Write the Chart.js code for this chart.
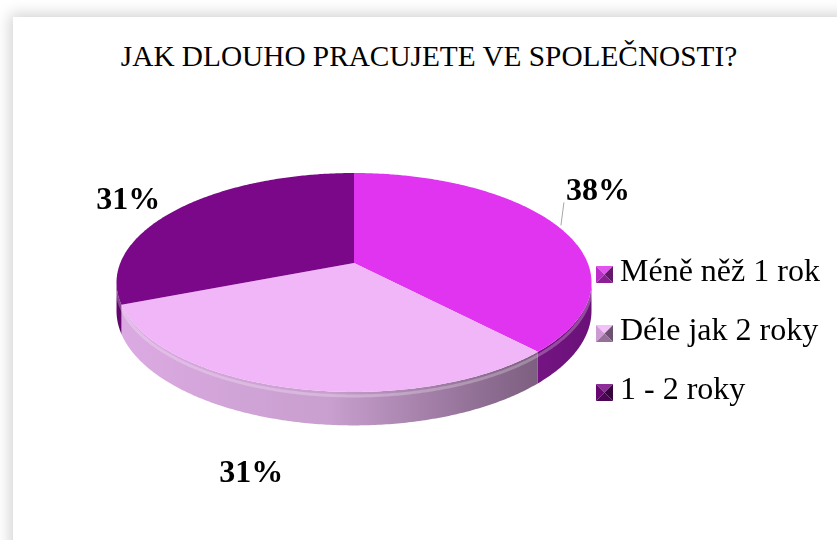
<!DOCTYPE html>
<html><head><meta charset="utf-8">
<script src="https://cdn.jsdelivr.net/npm/chart.js@4/dist/chart.umd.min.js"></script>
<style>
html,body{margin:0;padding:0;background:#fff;width:837px;height:540px;overflow:hidden;}
#frame{position:absolute;left:13px;top:17px;width:900px;height:600px;background:#fff;box-shadow:0 0 14px 3px rgba(0,0,0,0.18);}
#title{position:absolute;left:17px;width:824px;top:39px;line-height:34px;text-align:center;font-family:"Liberation Serif","Times New Roman",serif;font-size:29.3px;color:#000;white-space:nowrap;}
#wrap{position:absolute;left:0;top:0;width:837px;height:540px;}
canvas{display:block;}
</style></head><body>
<div id="frame"></div>
<div id="title">JAK DLOUHO PRACUJETE VE SPOLEČNOSTI?</div>
<div id="wrap"><canvas id="c" width="837" height="540"></canvas></div>
<script>
// ---- data ----
const categories = ['Méně něž 1 rok', 'Déle jak 2 roky', '1 - 2 roky'];
const values = [38, 31, 31];

// ---- style ----
const topColors = ['#E034F0', '#F0B6F8', '#7A0888'];
const sideStops = [
  [[0, '#9a28ac'], [0.75, '#80198f'], [1, '#6a1078']],
  [[0, '#dcaae3'], [0.45, '#c89fce'], [0.8, '#8a6a8e'], [1, '#6c506e']],
  [[0, '#62066e'], [1, '#62066e']]
];
const labelOffsets = [[40, -35], [-41, 86], [-50, -8]];
const leaderLines = [true, false, false];

function shade(hex, f) {
  const n = parseInt(hex.slice(1), 16);
  let r = (n >> 16) & 255, g = (n >> 8) & 255, b = n & 255;
  const m = v => Math.max(0, Math.min(255, Math.round(f >= 1 ? v + (255 - v) * (f - 1) : v * f)));
  return 'rgb(' + m(r) + ',' + m(g) + ',' + m(b) + ')';
}

function drawMarker(ctx, x, y, s, color) {
  const cx = x + s / 2, cy = y + s / 2;
  const tris = [
    [[x, y], [x + s, y], shade(color, 1.15)],
    [[x, y], [x, y + s], shade(color, 0.85)],
    [[x + s, y], [x + s, y + s], shade(color, 0.45)],
    [[x, y + s], [x + s, y + s], shade(color, 0.62)]
  ];
  tris.forEach(t => {
    ctx.beginPath();
    ctx.moveTo(cx, cy); ctx.lineTo(t[0][0], t[0][1]); ctx.lineTo(t[1][0], t[1][1]); ctx.closePath();
    ctx.fillStyle = t[2]; ctx.fill();
  });
}

// perspective projection of a point of the pie disc (angle th, height h: 0 top, 1 bottom)
function proj(cx, cy, R, o, th, h) {
  const X = Math.cos(th), Y = Math.sin(th);
  const w = 1 / (1 - o.persp * Y);
  return [cx + R * X * w, cy + R * o.tilt * Y * w + o.depth * h * w];
}

const pie3d = {
  id: 'pie3d',
  beforeDatasetsDraw(chart, args, o) {
    const ctx = chart.ctx;
    const els = chart.getDatasetMeta(0).data;
    if (!els.length) return;
    const cx = els[0].x, cy = els[0].y, R = els[0].outerRadius;
    const vLo = Math.asin(o.persp), vHi = Math.PI - vLo;
    ctx.save();
    // outer walls (visible front part)
    els.forEach((el, i) => {
      const lo = Math.max(el.startAngle, vLo), hi = Math.min(el.endAngle, vHi);
      if (hi <= lo) return;
      const g = ctx.createLinearGradient(cx - R * 1.02, 0, cx + R * 1.02, 0);
      sideStops[i].forEach(s => g.addColorStop(s[0], s[1]));
      const n = Math.max(2, Math.ceil((hi - lo) / 0.01));
      ctx.beginPath();
      for (let k = 0; k <= n; k++) {
        const p = proj(cx, cy, R, o, lo + (hi - lo) * k / n, 0);
        k ? ctx.lineTo(p[0], p[1]) : ctx.moveTo(p[0], p[1]);
      }
      for (let k = n; k >= 0; k--) {
        const p = proj(cx, cy, R, o, lo + (hi - lo) * k / n, 1);
        ctx.lineTo(p[0], p[1]);
      }
      ctx.closePath();
      ctx.fillStyle = g; ctx.fill();
    });
    // bevel highlight along the rim
    ctx.beginPath();
    const n2 = 300;
    for (let k = 0; k <= n2; k++) {
      const th = vLo + 0.04 + (vHi - vLo - 0.08) * k / n2;
      const p = proj(cx, cy, R, o, th, 0.12);
      k ? ctx.lineTo(p[0], p[1]) : ctx.moveTo(p[0], p[1]);
    }
    ctx.strokeStyle = 'rgba(255,255,255,0.25)'; ctx.lineWidth = 3; ctx.stroke();
    // top faces from the library's arc elements
    els.forEach(el => {
      const a = el.startAngle, b = el.endAngle;
      const n = Math.max(2, Math.ceil((b - a) / 0.01));
      ctx.beginPath();
      ctx.moveTo(cx, cy);
      for (let k = 0; k <= n; k++) {
        const p = proj(cx, cy, R, o, a + (b - a) * k / n, 0);
        ctx.lineTo(p[0], p[1]);
      }
      ctx.closePath();
      ctx.fillStyle = el.options.backgroundColor;
      ctx.fill();
    });
    ctx.restore();
    return false;
  },
  afterDraw(chart, args, o) {
    const ctx = chart.ctx;
    const els = chart.getDatasetMeta(0).data;
    if (!els.length) return;
    const cx = els[0].x, cy = els[0].y, R = els[0].outerRadius;
    const total = values.reduce((a, b) => a + b, 0);
    ctx.save();
    ctx.font = 'bold 32px "Liberation Serif"';
    ctx.fillStyle = '#000'; ctx.textAlign = 'center'; ctx.textBaseline = 'middle';
    els.forEach((el, i) => {
      const m = (el.startAngle + el.endAngle) / 2;
      const p = proj(cx, cy, R, o, m, 0);
      const lx = p[0] + labelOffsets[i][0], ly = p[1] + labelOffsets[i][1];
      ctx.fillStyle = '#000';
      ctx.fillText(Math.round(values[i] / total * 100) + '%', lx, ly);
      if (leaderLines[i]) {
        ctx.beginPath();
        ctx.moveTo(lx - 34, ly + 11); ctx.lineTo(p[0] + 3, p[1] - 1);
        ctx.strokeStyle = '#a6a6a6'; ctx.lineWidth = 1; ctx.stroke();
      }
    });
    // legend
    const items = chart.legend && chart.legend.legendItems && chart.legend.legendItems.length
      ? chart.legend.legendItems.map(it => it.text) : categories;
    ctx.font = '32px "Liberation Serif"';
    ctx.textAlign = 'left';
    items.forEach((txt, i) => {
      const y = o.legendY + i * o.legendStep;
      drawMarker(ctx, o.legendX, y - 8.5, 17, topColors[i]);
      ctx.fillStyle = '#000';
      ctx.fillText(txt, o.legendX + 24, y - 2);
    });
    ctx.restore();
  }
};

new Chart(document.getElementById('c'), {
  type: 'pie',
  data: {
    labels: categories,
    datasets: [{ data: values, backgroundColor: topColors, borderWidth: 0 }]
  },
  options: {
    responsive: false,
    animation: false,
    layout: { padding: { left: 120.3, right: 249.3, top: 29.3, bottom: 43.3 } },
    plugins: {
      legend: { display: false },
      title: { display: false },
      tooltip: { enabled: false },
      pie3d: { tilt: 0.4536, persp: 0.178, depth: 27.5, legendX: 596, legendY: 274.5, legendStep: 59 }
    }
  },
  plugins: [pie3d]
});
</script>
</body></html>
